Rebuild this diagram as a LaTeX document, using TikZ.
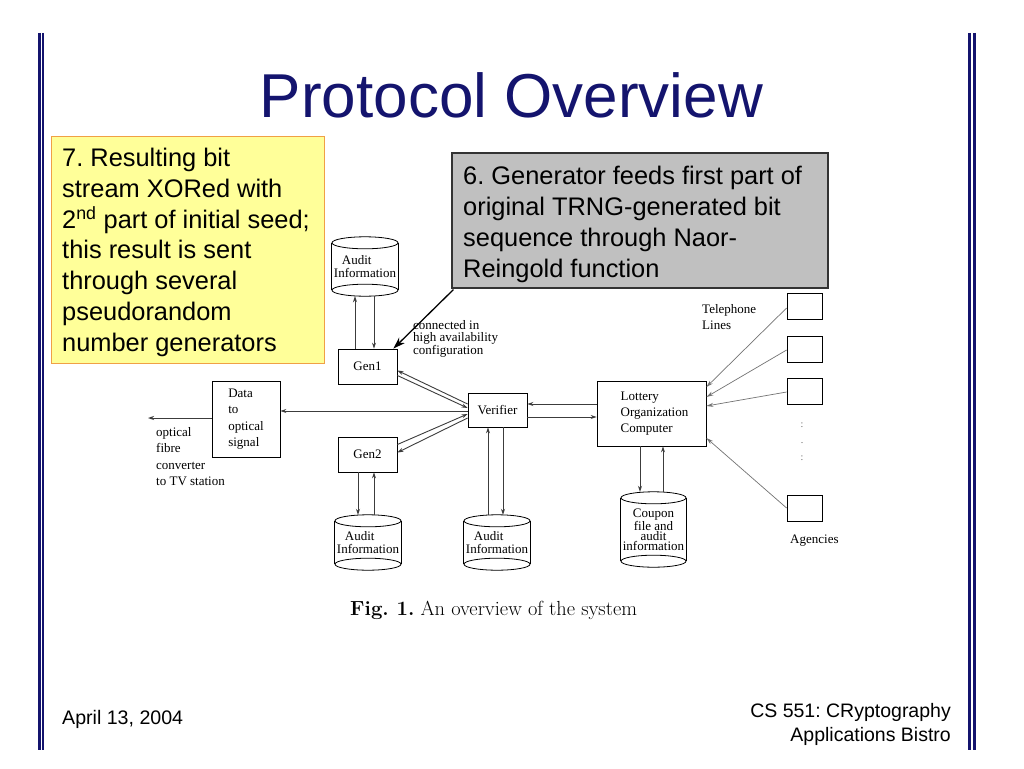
\documentclass[tikz,border=0pt]{standalone}
\usepackage{fontspec}
\newfontfamily\sanf{Liberation Sans}
\newfontfamily\tms{Liberation Serif}
\usetikzlibrary{arrows.meta,calc}
\definecolor{navy}{RGB}{20,20,110}
\definecolor{ylw}{RGB}{255,255,153}
\definecolor{ylwb}{RGB}{240,160,70}
\definecolor{gboxc}{RGB}{192,192,192}
\definecolor{dlinec}{RGB}{60,60,60}
\tikzset{
  box/.style={draw=black, line width=0.8pt, inner sep=0pt, align=left,
    font=\tms\fontsize{13}{16.3}\selectfont},
  agbox/.style={draw=black, line width=0.8pt, inner sep=0pt, minimum width=35pt, minimum height=26pt},
  cyl/.style={inner sep=0pt, minimum width=66pt, align=left,
    font=\tms\fontsize{13}{13}\selectfont},
  lbl/.style={anchor=base west, inner sep=0pt, align=left,
    font=\tms\fontsize{13}{16.3}\selectfont},
  arr/.style={draw=dlinec, line width=0.9pt, -{Stealth[length=6pt,width=4pt]}},
  agarr/.style={draw=black!55, line width=0.7pt, -{Stealth[length=7pt,width=4pt]}},
  callarr/.style={draw=black, line width=1.3pt, -{Stealth[length=12pt,width=8pt]}},
  cylline/.style={draw=black, line width=0.8pt},
}
\frenchspacing
\begin{document}
\frenchspacing
\begin{tikzpicture}[x=1pt,y=-1pt]
\useasboundingbox (0,0) rectangle (1024,768);
\fill[white] (0,0) rectangle (1024,768);

% slide borders
\draw[navy, line width=3pt] (39,33) -- (39,750);
\draw[navy, line width=2pt] (43,33) -- (43,750);
\draw[navy, line width=2.3pt] (969.5,33) -- (969.5,750);
\draw[navy, line width=3pt] (974,33) -- (974,750);

% title
\node[anchor=base, inner sep=0pt, text=navy, font=\sanf\fontsize{62}{70}\selectfont] (title) at (511.5,117) {Protocol Overview};

% yellow note
\node[draw=ylwb, fill=ylw, line width=1pt, inner sep=0pt, minimum width=273pt, minimum height=227pt] (yb) at (187.5,249.5) {};
\node[anchor=base west, inner sep=0pt, align=left, font=\sanf\fontsize{25.4}{30.7}\selectfont] (yt) at (62,351)
 {7. Resulting bit\\stream XORed with\\2\textsuperscript{nd} part of initial seed;\\this result is sent\\through several\\pseudorandom\\number generators};

% gray note
\node[draw=black!80, fill=gboxc, line width=1.2pt, inner sep=0pt, minimum width=376pt, minimum height=135pt] (gb) at (640,220.5) {};
\node[anchor=base west, inner sep=0pt, align=left, font=\sanf\fontsize{25.4}{31}\selectfont] (gt) at (463,277)
 {6. Generator feeds first part of\\original TRNG-generated bit\\sequence through Naor-\\Reingold function};

% diagram nodes
\node[box, minimum width=59pt, minimum height=35pt] (gen1) at (367.5,366.5) {Gen1};
\node[box, minimum width=59pt, minimum height=35pt] (gen2) at (367.5,454.5) {Gen2};
\node[box, minimum width=59pt, minimum height=34pt] (ver) at (497.5,410) {Verifier};
\node[box, minimum width=68pt, minimum height=76pt] (data) at (246,419) {Data\\to\\optical\\signal};
\node[box, minimum width=109pt, minimum height=65pt] (lot) at (651.5,413.5) {\hspace*{6pt}Lottery\\\hspace*{6pt}Organization\\\hspace*{6pt}Computer};

\node[cyl, minimum height=59pt] (au1) at (365,266.5) {\hspace*{8pt}Audit\\Information};
\node[cyl, minimum height=55pt] (au2) at (368,542.5) {\hspace*{8pt}Audit\\Information};
\node[cyl, minimum height=55pt] (au3) at (497,542.5) {\hspace*{8pt}Audit\\Information};
\node[cyl, minimum width=65pt, minimum height=75pt, align=center, font=\tms\fontsize{13}{9.8}\selectfont] (cp) at (653.5,529.5) {Coupon\\file and\\audit\\information};

\foreach \c/\r in {au1/33,au2/33,au3/33,cp/32.5}{
  \draw[cylline] ([yshift=-6pt]\c.north) ellipse [x radius=\r pt, y radius=6pt];
  \draw[cylline] ([yshift=6pt]\c.south) ellipse [x radius=\r pt, y radius=6pt];
  \draw[cylline] ([yshift=-6pt]\c.north west) -- ([yshift=6pt]\c.south west);
  \draw[cylline] ([yshift=-6pt]\c.north east) -- ([yshift=6pt]\c.south east);
}

\node[agbox] (ag1) at (804.5,306) {};
\node[agbox] (ag2) at (804.5,349) {};
\node[agbox] (ag3) at (804.5,391) {};
\node[agbox] (ag4) at (804.5,508) {};

% labels
\node[lbl, font=\tms\fontsize{13}{12.5}\selectfont] (conn) at (413,354) {connected in\\high availability\\configuration};
\node[lbl, font=\tms\fontsize{13}{16.5}\selectfont] (fibtxt) at (156,485.5) {optical\\fibre\\converter\\to TV station};
\node[lbl, font=\tms\fontsize{13}{16}\selectfont] (tel) at (702,329) {Telephone\\Lines};
\node[lbl] (agen) at (790,543) {Agencies};
\node[anchor=base, inner sep=0pt, align=center, text=black!60, font=\tms\fontsize{10}{16.5}\selectfont] (dots) at (802,460) {:\\.\\:};

% caption
\node[anchor=base west, inner sep=0pt, font=\fontsize{20.4}{24}\selectfont] (cap) at (350,615) {\textbf{Fig. 1.} An overview of the system};

% footer
\node[anchor=base west, inner sep=0pt, font=\sanf\fontsize{19.6}{24}\selectfont] (date) at (62,724) {April 13, 2004};
\node[anchor=base east, inner sep=0pt, align=right, font=\sanf\fontsize{19.5}{24}\selectfont] (course) at (951,741) {CS 551: CRyptography\\Applications Bistro};

% connectors
\coordinate (fibre) at (148,418);
\draw[arr] ([yshift=1pt]data.west) -- (fibre);
\draw[arr] ([yshift=-1pt]ver.west) -- ([yshift=-1pt]ver.west -| data.east);

\draw[arr] ([xshift=-12.5pt]gen1.north) -- ([xshift=-12.5pt]gen1.north |- au1.south);
\draw[arr] ([xshift=6.5pt]gen1.north |- au1.south) -- ([xshift=6.5pt]gen1.north);

\draw[arr] ([xshift=-9.5pt]gen2.south) -- ([xshift=-9.5pt]gen2.south |- au2.north);
\draw[arr] ([xshift=6.5pt]gen2.south |- au2.north) -- ([xshift=6.5pt]gen2.south);

\draw[arr] ([xshift=-9.5pt]ver.south |- au3.north) -- ([xshift=-9.5pt]ver.south);
\draw[arr] ([xshift=5.5pt]ver.south) -- ([xshift=5.5pt]ver.south |- au3.north);

\draw[arr] ([xshift=-11.5pt]lot.south) -- ([xshift=-11.5pt]lot.south |- cp.north);
\draw[arr] ([xshift=11.5pt]lot.south |- cp.north) -- ([xshift=11.5pt]lot.south);

\draw[arr] ([yshift=6pt]ver.west) -- ([yshift=-4pt]gen1.east);
\draw[arr] ([yshift=-9pt]gen1.east) -- ([yshift=2pt]ver.west);
\draw[arr] ([yshift=10pt]gen2.east) -- ([yshift=-4pt]ver.west);
\draw[arr] ([yshift=-8pt]ver.west) -- ([yshift=2pt]gen2.east);

\draw[arr] ([yshift=6pt]ver.east -| lot.west) -- ([yshift=6pt]ver.east);
\draw[arr] ([yshift=-7pt]ver.east) -- ([yshift=-7pt]ver.east -| lot.west);

\draw[agarr] ([yshift=-2pt]ag1.west) -- ([yshift=26.5pt]lot.east);
\draw[agarr] ([yshift=-1pt]ag2.west) -- ([yshift=16.5pt]lot.east);
\draw[agarr] ([yshift=-1pt]ag3.west) -- ([yshift=7.5pt]lot.east);
\draw[agarr] (ag4.west) -- ([yshift=-24.5pt]lot.east);

\draw[callarr] ([xshift=2pt,yshift=-1pt]gb.south west) -- ([xshift=-4pt]gen1.north east);
\end{tikzpicture}
\end{document}
